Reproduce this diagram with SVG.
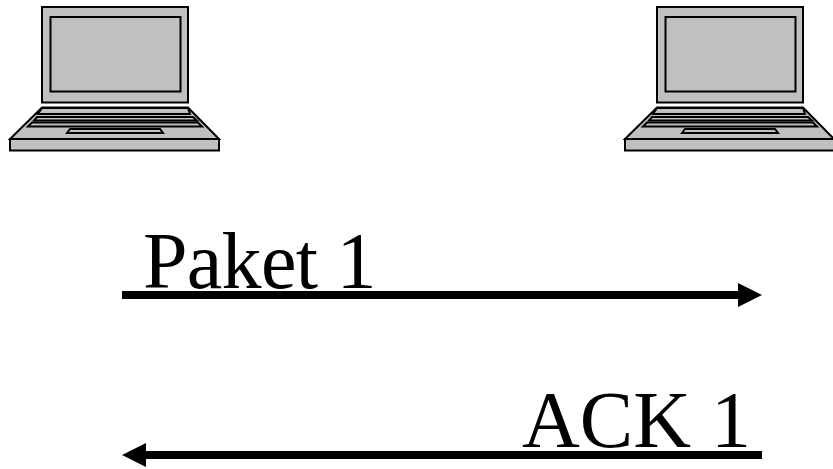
<svg xmlns="http://www.w3.org/2000/svg" xmlns:xlink="http://www.w3.org/1999/xlink" width="833" height="469" viewBox="0 0 833 469">
<style>
.l{fill:#c0c0c0;stroke:#000;stroke-width:2}
.t{font-family:"Liberation Serif","Times New Roman",serif;font-size:80px;fill:#000}
.c{stroke:#000;stroke-width:8;fill:none}
</style>
<defs>
<g id="laptop">
<rect class="l" x="42" y="7" width="146" height="95.500"/>
<rect class="l" x="50.500" y="17" width="130" height="74.500"/>
<path class="l" d="M42 107.500H188L219 139H10Z"/>
<path class="l" d="M10 139H219V150.500H10Z"/>
<path class="l" d="M42 108H188L190 114H38Z"/>
<path class="l" d="M37 117H193L197 120.500H34Z"/>
<path class="l" d="M32 122.500H198L202 126.500H28Z"/>
<path class="l" d="M67 133L70 129H160L163 133Z"/>
</g>
</defs>
<rect width="833" height="469" fill="#fff"/>
<g id="laptop-left"><use href="#laptop"/></g>
<g id="laptop-right"><use href="#laptop" x="615"/></g>
<g id="connectors">
<path class="c" d="M122 295H740"/>
<path d="M738 283L762 295L738 307Z" fill="#000"/>
<path class="c" d="M762 455H144"/>
<path d="M146 443L122 455L146 467Z" fill="#000"/>
</g>
<g id="label-paket"><text class="t" x="143" y="288" letter-spacing="-0.7">Paket 1</text></g>
<g id="label-ack"><text class="t" x="522" y="447">ACK 1</text></g>
</svg>
